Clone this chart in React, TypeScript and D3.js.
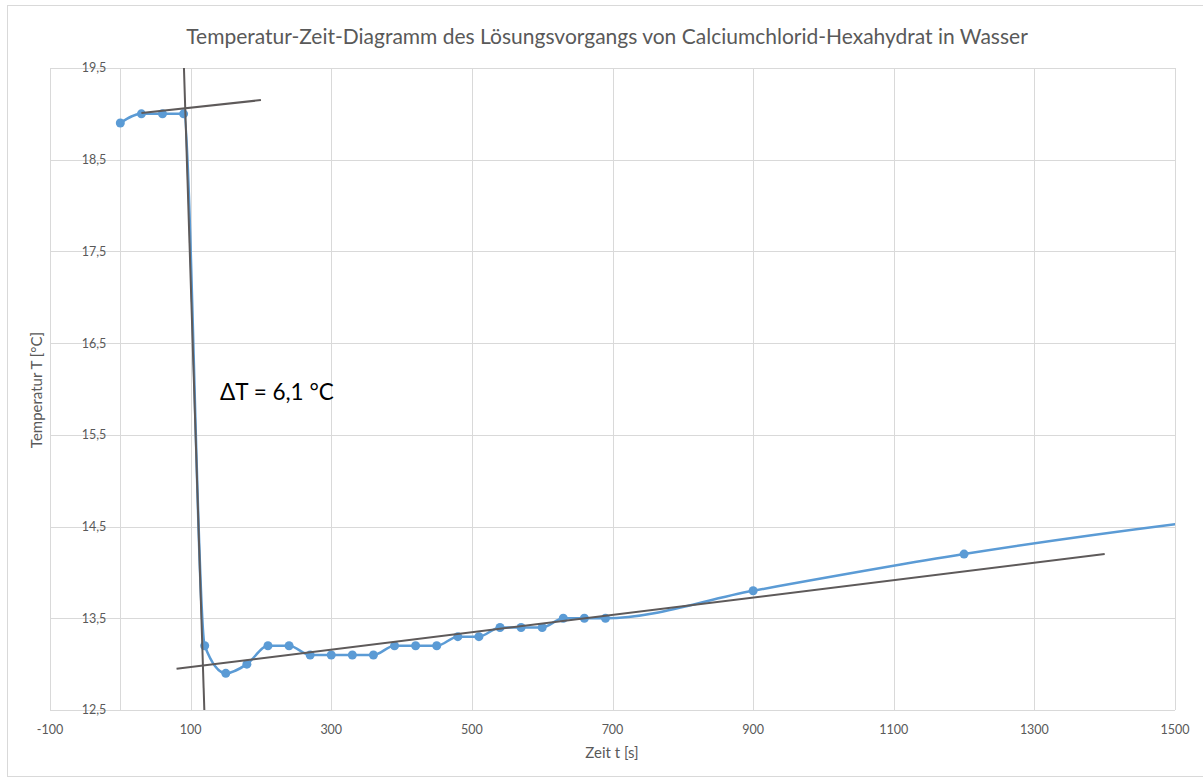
import { useEffect, useRef } from 'react';
import * as d3 from 'd3';

// Messwerte: Zeit [s] und Temperatur [°C]
const times = [0, 30, 60, 90, 120, 150, 180, 210, 240, 270, 300, 330, 360, 390, 420, 450, 480, 510, 540, 570, 600, 630, 660, 690, 900, 1200, 1800];
const temps = [18.9, 19.0, 19.0, 19.0, 13.2, 12.9, 13.0, 13.2, 13.2, 13.1, 13.1, 13.1, 13.1, 13.2, 13.2, 13.2, 13.3, 13.3, 13.4, 13.4, 13.4, 13.5, 13.5, 13.5, 13.8, 14.2, 14.8];
// Punkte ohne Markierung (ausserhalb des Diagramms)
const hiddenMarkers = [1800];

// Hilfsgeraden (Tangenten) als Start-/Endpunkte
const tangentLines: [number, number][][] = [
    [[30, 19.01], [200, 19.15]],
    [[90.5, 19.5], [119.5, 12.5]],
    [[80, 12.95], [1400, 14.2]],
];

const xTicks = [-100, 100, 300, 500, 700, 900, 1100, 1300, 1500];
const yTicks = [12.5, 13.5, 14.5, 15.5, 16.5, 17.5, 18.5, 19.5];

const title = 'Temperatur-Zeit-Diagramm des Lösungsvorgangs von Calciumchlorid-Hexahydrat in Wasser';
const annotation = 'ΔT = 6,1 °C';

export default function App() {
    const ref = useRef<SVGSVGElement>(null);

    useEffect(() => {
        if (!ref.current) return;
        const svg = d3.select(ref.current);
        svg.selectAll('*').remove();

        const width = 1203;
        const height = 778;
        const font = 'Lato, "Open Sans", sans-serif';
        const grid = '#d9d9d9';
        const textColor = '#595959';
        const blue = '#5b9bd5';

        const x = d3.scaleLinear().domain([-100, 1500]).range([50, 1175]);
        const y = d3.scaleLinear().domain([12.5, 19.5]).range([710, 68]);
        const fmt = (v: number) => d3.format('.1f')(v).replace('.', ',');

        svg.attr('width', width).attr('height', height);

        svg.append('rect')
            .attr('x', 7.5).attr('y', 5.5)
            .attr('width', 1200).attr('height', 771)
            .attr('fill', '#fff')
            .attr('stroke', grid);

        svg.append('defs').append('clipPath').attr('id', 'plot-clip')
            .append('rect')
            .attr('x', x(-100)).attr('y', y(19.5))
            .attr('width', x(1500) - x(-100)).attr('height', y(12.5) - y(19.5));

        // Gitternetz
        svg.append('g').selectAll('line').data(yTicks).join('line')
            .attr('x1', x(-100)).attr('x2', x(1500))
            .attr('y1', d => Math.round(y(d)) + 0.5).attr('y2', d => Math.round(y(d)) + 0.5)
            .attr('stroke', grid);
        svg.append('g').selectAll('line').data([...xTicks, 0]).join('line')
            .attr('x1', d => Math.round(x(d)) + 0.5).attr('x2', d => Math.round(x(d)) + 0.5)
            .attr('y1', y(19.5)).attr('y2', y(12.5))
            .attr('stroke', grid);

        // Achsenbeschriftungen
        svg.append('g').selectAll('text').data(yTicks).join('text')
            .attr('x', x(0) - 14).attr('y', d => y(d))
            .attr('dy', '0.35em')
            .attr('text-anchor', 'end')
            .attr('font-family', font).attr('font-size', 12.5)
            .attr('fill', textColor)
            .text(d => fmt(d));
        svg.append('g').selectAll('text').data(xTicks).join('text')
            .attr('x', d => x(d)).attr('y', y(12.5) + 20)
            .attr('dy', '0.35em')
            .attr('text-anchor', 'middle')
            .attr('font-family', font).attr('font-size', 12.5)
            .attr('fill', textColor)
            .text(d => String(d));

        svg.append('text')
            .attr('x', 612).attr('y', 753).attr('dy', '0.35em')
            .attr('text-anchor', 'middle')
            .attr('font-family', font).attr('font-size', 15)
            .attr('fill', textColor)
            .text('Zeit t [s]');
        svg.append('text')
            .attr('transform', 'translate(37, 390) rotate(-90)')
            .attr('dy', '0.35em')
            .attr('text-anchor', 'middle')
            .attr('font-family', font).attr('font-size', 15)
            .attr('fill', textColor)
            .text('Temperatur T [°C]');

        svg.append('text')
            .attr('x', 607).attr('y', 37).attr('dy', '0.35em')
            .attr('text-anchor', 'middle')
            .attr('font-family', font).attr('font-size', 21)
            .attr('fill', textColor)
            .text(title);

        const plot = svg.append('g').attr('clip-path', 'url(#plot-clip)');

        // Messkurve (geglättet)
        const data = times.map((t, i) => [t, temps[i]] as [number, number]);
        const line = d3.line<[number, number]>()
            .x(d => x(d[0]))
            .y(d => y(d[1]))
            .curve(d3.curveMonotoneX);
        plot.append('path')
            .datum(data)
            .attr('d', line)
            .attr('fill', 'none')
            .attr('stroke', blue)
            .attr('stroke-width', 2.5);

        plot.append('g').selectAll('circle')
            .data(data.filter(d => !hiddenMarkers.includes(d[0])))
            .join('circle')
            .attr('cx', d => x(d[0])).attr('cy', d => y(d[1]))
            .attr('r', 4.5)
            .attr('fill', blue);

        // Tangenten
        const straight = d3.line<[number, number]>().x(d => x(d[0])).y(d => y(d[1]));
        plot.append('g').selectAll('path').data(tangentLines).join('path')
            .attr('d', d => straight(d))
            .attr('fill', 'none')
            .attr('stroke', '#5e5a5a')
            .attr('stroke-width', 2);

        svg.append('text')
            .attr('x', 220).attr('y', 392).attr('dy', '0.35em')
            .attr('font-family', font).attr('font-size', 22.5)
            .attr('fill', '#000')
            .text(annotation);
    }, []);

    return (
        <div style={{ position: 'fixed', left: 0, top: 0 }}>
            <svg ref={ref} style={{ display: 'block' }} />
        </div>
    );
}
